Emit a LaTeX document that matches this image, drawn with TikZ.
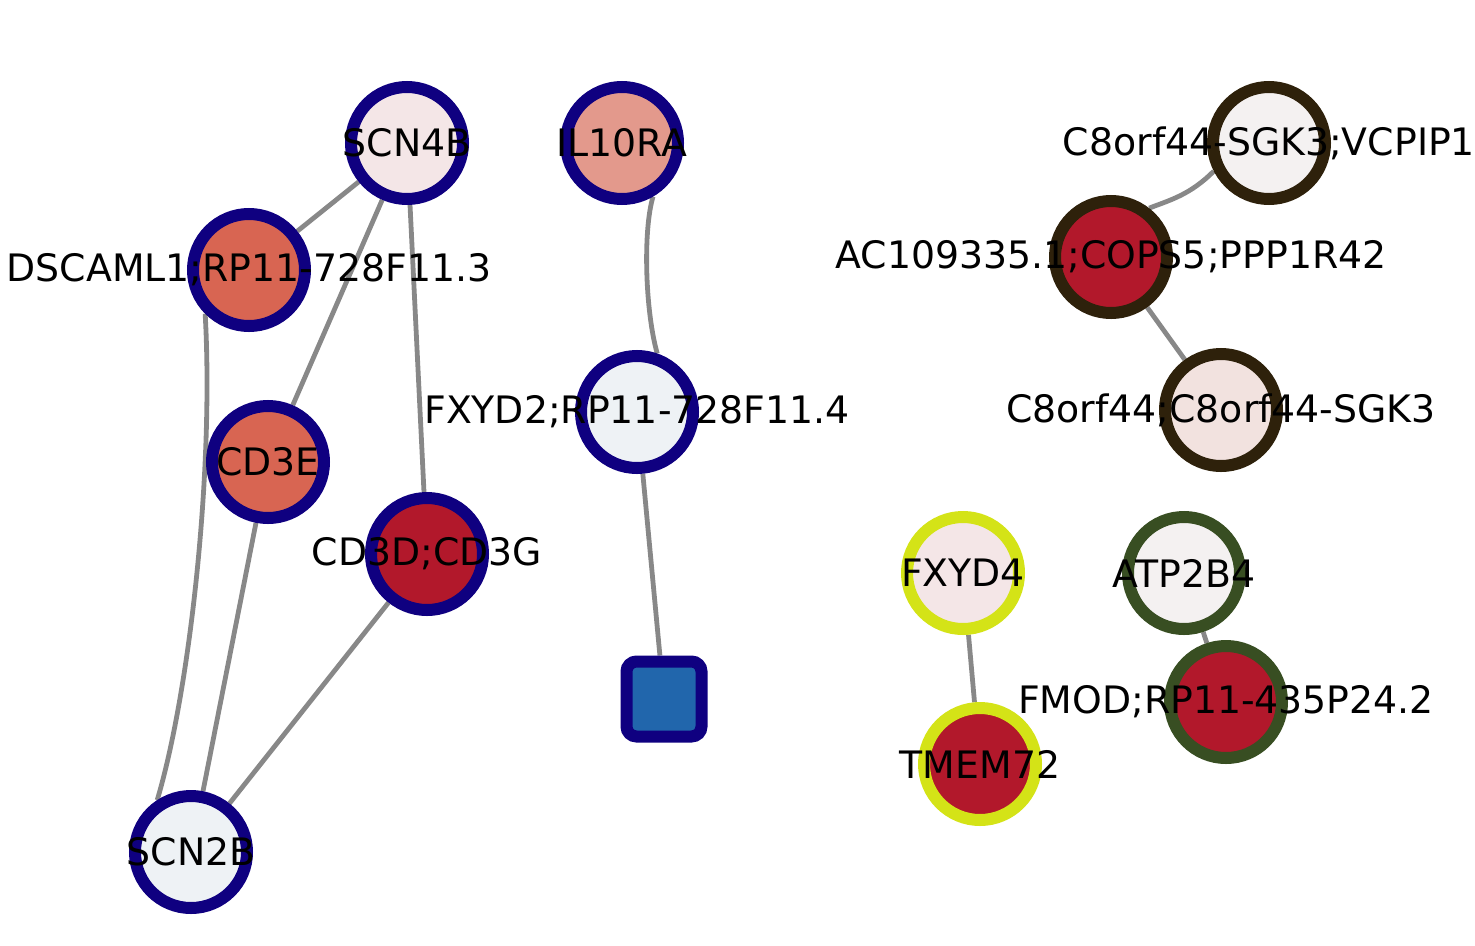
\documentclass[tikz,border=0pt]{standalone}
\usepackage{fontspec}
\setmainfont{DejaVu Sans}
\usetikzlibrary{backgrounds}

\definecolor{navyrim}{HTML}{0F0080}
\definecolor{brownrim}{HTML}{2E210B}
\definecolor{limerim}{HTML}{D4E317}
\definecolor{olivrim}{HTML}{384E22}
\definecolor{deepred}{HTML}{B2182B}
\definecolor{salmon}{HTML}{D86552}
\definecolor{rosy}{HTML}{E3998C}
\definecolor{pinkish}{HTML}{F4E6E7}
\definecolor{icy}{HTML}{EEF2F5}
\definecolor{offwhite}{HTML}{F4F1F1}
\definecolor{blush}{HTML}{F2E2DF}
\definecolor{steel}{HTML}{2166AC}
\definecolor{edgegray}{HTML}{888888}

\begin{document}
\begin{tikzpicture}[x=1pt,y=-1pt,
  gene/.style={circle, draw=navyrim, line width=12pt, minimum size=112pt, inner sep=0pt},
  lbl/.style={font=\fontsize{37.8}{45}\selectfont},
  link/.style={draw=edgegray, line width=4.8pt}]
\useasboundingbox (0,0) rectangle (1475,945);
\node[gene, fill=pinkish, label={[lbl]center:SCN4B}] (scn4b) at (407,143) {};
\node[gene, fill=rosy, label={[lbl]center:IL10RA}] (il10ra) at (622,143) {};
\node[gene, fill=salmon, label={[lbl]center:DSCAML1;RP11-728F11.3}] (dscaml1) at (249,270) {};
\node[gene, fill=salmon, label={[lbl]center:CD3E}] (cd3e) at (268,462) {};
\node[gene, fill=deepred, label={[lbl]center:CD3D;CD3G}] (cd3d) at (427,554) {};
\node[gene, fill=icy, label={[lbl]center:FXYD2;RP11-728F11.4}] (fxyd2) at (637,412) {};
\node[draw=navyrim, fill=steel, line width=12pt, rounded corners=10pt, minimum size=75pt, inner sep=0pt] (sq) at (664,699) {};
\node[gene, fill=icy, label={[lbl]center:SCN2B}] (scn2b) at (191,852) {};
\node[gene, draw=brownrim, fill=offwhite, label={[lbl]center:C8orf44-SGK3;VCPIP1}] (vcpip1) at (1269,143) {};
\node[gene, draw=brownrim, fill=deepred, label={[lbl]center:AC109335.1;COPS5;PPP1R42}] (cops5) at (1111,257) {};
\node[gene, draw=brownrim, fill=blush, label={[lbl]center:C8orf44;C8orf44-SGK3}] (c8orf44) at (1221,410) {};
\node[gene, draw=limerim, fill=pinkish, label={[lbl]center:FXYD4}] (fxyd4) at (963,573) {};
\node[gene, draw=limerim, fill=deepred, label={[lbl]center:TMEM72}] (tmem72) at (980,764) {};
\node[gene, draw=olivrim, fill=offwhite, label={[lbl]center:ATP2B4}] (atp2b4) at (1184,573) {};
\node[gene, draw=olivrim, fill=deepred, label={[lbl]center:FMOD;RP11-435P24.2}] (fmod) at (1226,702) {};
\begin{scope}[on background layer]
\draw[link] (scn4b) -- (dscaml1);
\draw[link] (scn4b) -- (cd3e);
\draw[link] (scn4b) -- (cd3d);
\draw[link] (dscaml1.225) .. controls (214,470) and (190,690) .. (scn2b.123);
\draw[link] (cd3e) -- (scn2b);
\draw[link] (cd3d) -- (scn2b);
\draw[link] (il10ra.-60) .. controls (643,230) and (645,310) .. (fxyd2.71);
\draw[link] (fxyd2) -- (sq);
\draw[link] (vcpip1.207) .. controls (1190,195) and (1170,200) .. (cops5.52);
\draw[link] (cops5) -- (c8orf44);
\draw[link] (fxyd4) -- (tmem72);
\draw[link] (atp2b4) -- (fmod);
\end{scope}
\end{tikzpicture}
\end{document}
